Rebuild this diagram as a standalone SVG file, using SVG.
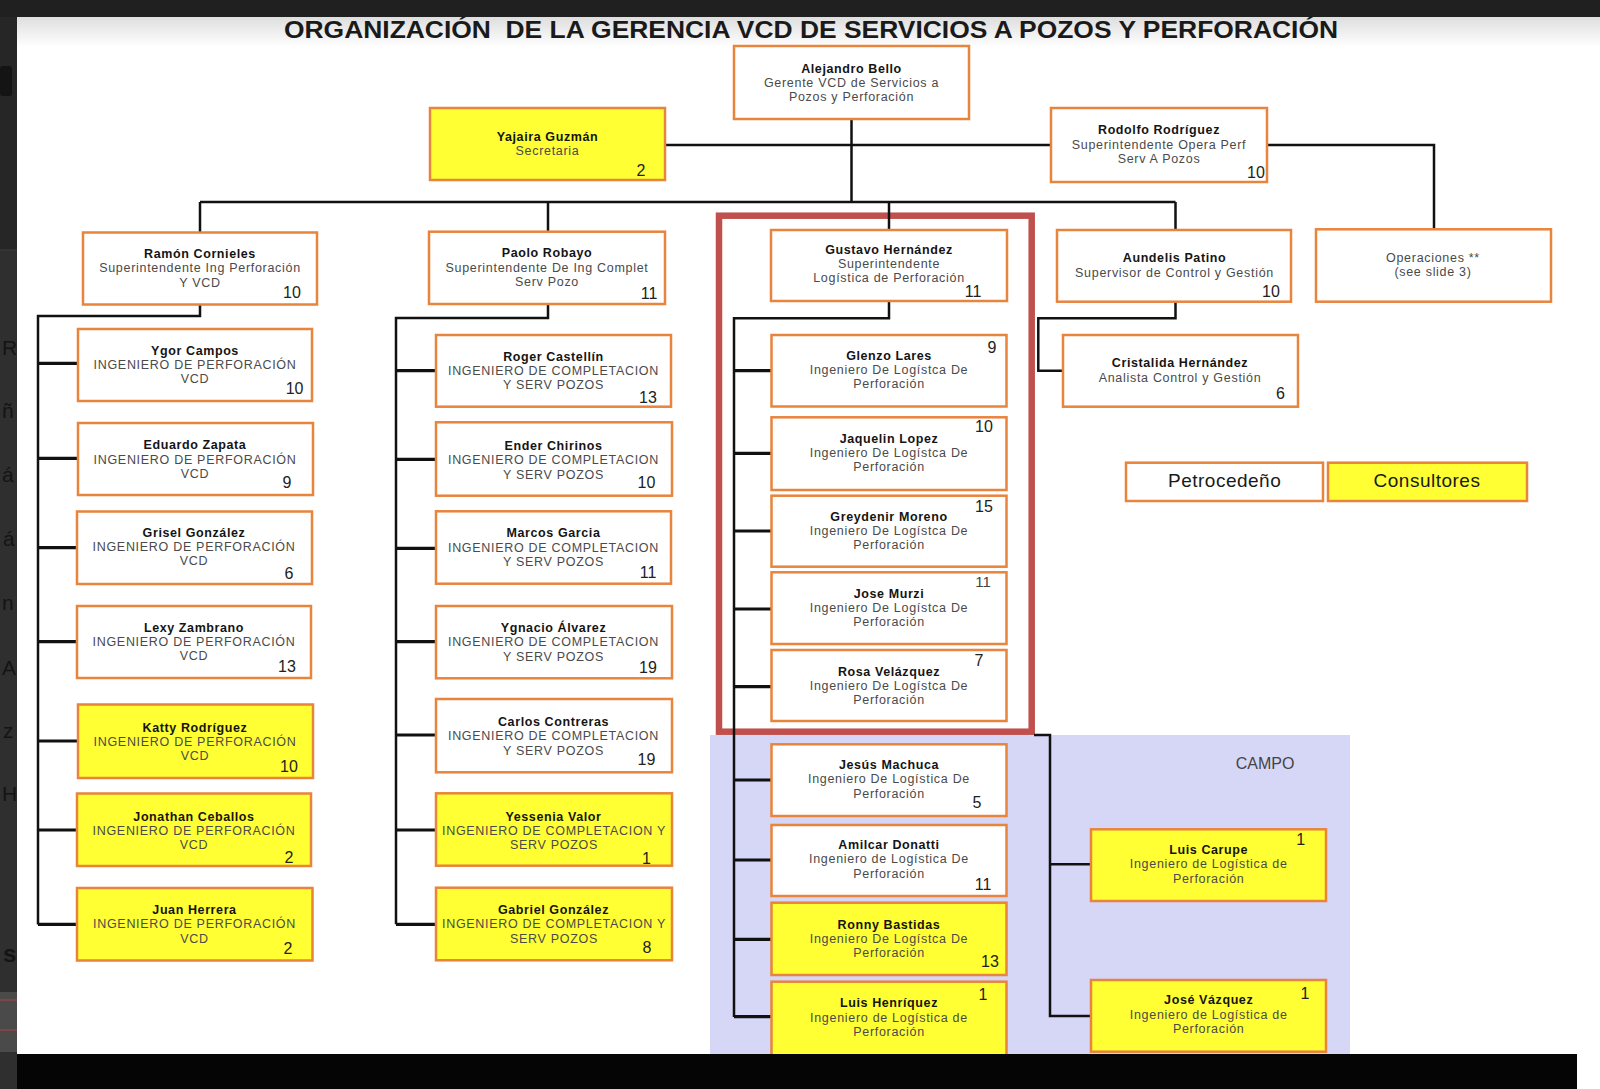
<svg xmlns="http://www.w3.org/2000/svg" width="1600" height="1089" viewBox="0 0 1600 1089">
<defs>
<linearGradient id="tg" x1="0" y1="0" x2="0" y2="1">
<stop offset="0" stop-color="#dedede"/>
<stop offset="1" stop-color="#ffffff"/>
</linearGradient>
</defs>
<style>
.bx{fill:#ffffff;stroke:#e8843c;stroke-width:2.5}
.y{fill:#ffff33}
text{font-family:"Liberation Sans",Arial,Helvetica,sans-serif}
.nm{font-size:12.5px;font-weight:bold;fill:#141414;text-anchor:middle;letter-spacing:0.6px}
.rl{font-size:12.5px;fill:#4a4a4a;text-anchor:middle;letter-spacing:0.7px}
.nu{font-size:16px;fill:#222222;text-anchor:middle}
.ln{stroke:#111111;stroke-width:2.5;fill:none}
.br{stroke:#111111;stroke-width:3.2;fill:none}
.bg{font-size:21px;fill:#141414}
</style>
<!-- background frame -->
<rect x="0" y="0" width="1600" height="1089" fill="#ffffff"/>
<rect x="17" y="17" width="1583" height="30" fill="url(#tg)"/>
<rect x="0" y="0" width="1600" height="17" fill="#202020"/>
<rect x="0" y="17" width="17" height="233" fill="#262626"/>
<rect x="0" y="250" width="17" height="839" fill="#2f2f2f"/>
<line x1="0" y1="250" x2="17" y2="250" stroke="#3c3c3c" stroke-width="1"/>
<rect x="0" y="66" width="12" height="30" rx="3" fill="#141414"/>
<g id="side-panel">
<text class="bg" x="2" y="355">R</text>
<text class="bg" x="2" y="418">ñ</text>
<text class="bg" x="2" y="482">á</text>
<text class="bg" x="3" y="546">á</text>
<text class="bg" x="2" y="610">n</text>
<text class="bg" x="2" y="675">A</text>
<text class="bg" x="3" y="738">z</text>
<text class="bg" x="2" y="801">H</text>
<text class="bg" x="3" y="962" style="font-weight:bold;font-size:24px">s</text>
<rect x="0" y="992" width="17" height="60" fill="#4a4a4a"/>
<line x1="0" y1="1000" x2="17" y2="1000" stroke="#b04040" stroke-width="1"/>
<line x1="0" y1="1030" x2="17" y2="1030" stroke="#b04040" stroke-width="1"/>
</g>
<rect x="17" y="1054" width="1560" height="35" fill="#050505"/>

<text x="811" y="38.3" text-anchor="middle" xml:space="preserve" textLength="1054" lengthAdjust="spacingAndGlyphs" style="font-size:23px;font-weight:bold;fill:#1a1a1a">ORGANIZACIÓN  DE LA GERENCIA VCD DE SERVICIOS A POZOS Y PERFORACIÓN</text>

<!-- CAMPO panel -->
<g id="campo">
<rect x="710" y="735" width="640" height="319" fill="#d6d6f6"/>
<text x="1265" y="769" text-anchor="middle" style="font-size:16px;fill:#444444">CAMPO</text>
</g>

<!-- highlight -->
<rect id="highlight" x="719" y="215.7" width="312.7" height="516" fill="none" stroke="#c0504d" stroke-width="6.5"/>

<g id="connectors">
<path class="ln" d="M851.5 119V202"/>
<path class="ln" d="M665 145H1051"/>
<path class="ln" d="M1267 145H1434V229"/>
<path class="ln" d="M200 202H1175.5"/>
<path class="ln" d="M200 202V232.5M548 202V231.7M889 202V230M1175.5 202V230"/>
<path class="ln" d="M200 304V316H38V924.5"/>
<path class="br" d="M38 363.3H78M38 458.3H78M38 547.7H77M38 641.7H77M38 741H78M38 830H77M38 924.3H77"/>
<path class="ln" d="M548 304V318H396V924.3"/>
<path class="br" d="M396 370.7H436M396 459.3H436M396 548.3H436M396 641.7H436M396 735H436M396 830H436M396 924.3H436"/>
<path class="ln" d="M889 301V318.3H734V1017"/>
<path class="br" d="M734 370.7H771.5M734 453.3H771.5M734 531H771.5M734 609H771.5M734 686.7H771.5M734 780H771.5M734 860H771.5M734 939.3H771.5M734 1016.7H771.5"/>
<path class="ln" d="M1175.5 301.7V318.3H1038.3V370.7H1063"/>
<path class="ln" d="M1034 735H1050V1016H1091M1050 864.3H1091"/>
</g>

<g id="alejandro-bello">
<rect class="bx" x="734" y="46" width="235" height="73"/>
<text class="nm" x="851.5" y="72.7">Alejandro Bello</text>
<text class="rl" x="851.5" y="87.3">Gerente VCD de Servicios a</text>
<text class="rl" x="851.5" y="101">Pozos y Perforación</text>
</g>
<g id="yajaira-guzman">
<rect class="bx y" x="430" y="108" width="235" height="72"/>
<text class="nm" x="547.5" y="140.7">Yajaira Guzmán</text>
<text class="rl" x="547.5" y="155">Secretaria</text>
<text class="nu" x="641" y="175.7">2</text>
</g>
<g id="rodolfo-rodriguez">
<rect class="bx" x="1051" y="108" width="216" height="74"/>
<text class="nm" x="1159" y="134">Rodolfo Rodríguez</text>
<text class="rl" x="1159" y="149">Superintendente Opera Perf</text>
<text class="rl" x="1159" y="162.7">Serv A Pozos</text>
<text class="nu" x="1256" y="177.7">10</text>
</g>
<g id="ramon-cornieles">
<rect class="bx" x="83" y="232.5" width="234" height="72"/>
<text class="nm" x="200" y="257.7">Ramón Cornieles</text>
<text class="rl" x="200" y="272.3">Superintendente Ing Perforación</text>
<text class="rl" x="200" y="286.7">Y VCD</text>
<text class="nu" x="292" y="297.7">10</text>
</g>
<g id="paolo-robayo">
<rect class="bx" x="429" y="231.7" width="236" height="72.3"/>
<text class="nm" x="547" y="257.3">Paolo Robayo</text>
<text class="rl" x="547" y="271.7">Superintendente De Ing Complet</text>
<text class="rl" x="547" y="285.7">Serv Pozo</text>
<text class="nu" x="649" y="299.3">11</text>
</g>
<g id="gustavo-hernandez">
<rect class="bx" x="771" y="230" width="236" height="71"/>
<text class="nm" x="889" y="254">Gustavo Hernández</text>
<text class="rl" x="889" y="268.3">Superintendente</text>
<text class="rl" x="889" y="282.3">Logística de Perforación</text>
<text class="nu" x="973" y="297.3">11</text>
</g>
<g id="aundelis-patino">
<rect class="bx" x="1057" y="230" width="234" height="71.7"/>
<text class="nm" x="1174.5" y="262.3">Aundelis Patino</text>
<text class="rl" x="1174.5" y="276.7">Supervisor de Control y Gestión</text>
<text class="nu" x="1271" y="296.7">10</text>
</g>
<g id="operaciones">
<rect class="bx" x="1316" y="229.3" width="235" height="72.4"/>
<text class="rl" x="1433" y="261.7">Operaciones **</text>
<text class="rl" x="1433" y="276">(see slide 3)</text>
</g>
<g id="cristalida-hernandez">
<rect class="bx" x="1063" y="335" width="235" height="71.7"/>
<text class="nm" x="1180" y="367.3">Cristalida Hernández</text>
<text class="rl" x="1180" y="381.7">Analista Control y Gestión</text>
<text class="nu" x="1280.5" y="399">6</text>
</g>
<g id="legend-petrocedeno">
<rect class="bx" x="1126" y="462.7" width="197" height="38.3"/>
<text x="1224.6" y="486.7" text-anchor="middle" style="font-size:19px;fill:#1a1a1a;letter-spacing:0.5px">Petrocedeño</text>
</g>
<g id="legend-consultores">
<rect class="bx y" x="1328" y="462.7" width="199" height="38.3"/>
<text x="1427" y="486.7" text-anchor="middle" style="font-size:19px;fill:#1a1a1a;letter-spacing:0.5px">Consultores</text>
</g>

<!-- left column -->
<g id="ygor-campos">
<rect class="bx" x="78" y="329" width="234" height="72"/>
<text class="nm" x="195" y="355">Ygor Campos</text>
<text class="rl" x="195" y="369">INGENIERO DE PERFORACIÓN</text>
<text class="rl" x="195" y="383.3">VCD</text>
<text class="nu" x="294.6" y="394">10</text>
</g>
<g id="eduardo-zapata">
<rect class="bx" x="78" y="423" width="235" height="72"/>
<text class="nm" x="195" y="449.3">Eduardo Zapata</text>
<text class="rl" x="195" y="463.5">INGENIERO DE PERFORACIÓN</text>
<text class="rl" x="195" y="477.7">VCD</text>
<text class="nu" x="287" y="487.7">9</text>
</g>
<g id="grisel-gonzalez">
<rect class="bx" x="77" y="511.5" width="235" height="72.5"/>
<text class="nm" x="194" y="536.7">Grisel González</text>
<text class="rl" x="194" y="551">INGENIERO DE PERFORACIÓN</text>
<text class="rl" x="194" y="565">VCD</text>
<text class="nu" x="289" y="579">6</text>
</g>
<g id="lexy-zambrano">
<rect class="bx" x="77" y="606" width="234" height="72"/>
<text class="nm" x="194" y="631.7">Lexy Zambrano</text>
<text class="rl" x="194" y="646">INGENIERO DE PERFORACIÓN</text>
<text class="rl" x="194" y="660">VCD</text>
<text class="nu" x="287" y="671.7">13</text>
</g>
<g id="katty-rodriguez">
<rect class="bx y" x="78" y="704.5" width="235" height="73.5"/>
<text class="nm" x="195" y="731.7">Katty Rodríguez</text>
<text class="rl" x="195" y="746">INGENIERO DE PERFORACIÓN</text>
<text class="rl" x="195" y="760">VCD</text>
<text class="nu" x="289" y="771.7">10</text>
</g>
<g id="jonathan-ceballos">
<rect class="bx y" x="77" y="793.5" width="234" height="72.5"/>
<text class="nm" x="194" y="820.7">Jonathan Ceballos</text>
<text class="rl" x="194" y="835">INGENIERO DE PERFORACIÓN</text>
<text class="rl" x="194" y="849">VCD</text>
<text class="nu" x="289" y="862.7">2</text>
</g>
<g id="juan-herrera">
<rect class="bx y" x="77" y="888" width="235.5" height="72.5"/>
<text class="nm" x="194.5" y="914">Juan Herrera</text>
<text class="rl" x="194.5" y="928.3">INGENIERO DE PERFORACIÓN</text>
<text class="rl" x="194.5" y="942.5">VCD</text>
<text class="nu" x="288" y="954">2</text>
</g>

<!-- middle column -->
<g id="roger-castellin">
<rect class="bx" x="436" y="335" width="235" height="71.7"/>
<text class="nm" x="553.5" y="360.7">Roger Castellín</text>
<text class="rl" x="553.5" y="375">INGENIERO DE COMPLETACION</text>
<text class="rl" x="553.5" y="389.3">Y SERV POZOS</text>
<text class="nu" x="648" y="402.7">13</text>
</g>
<g id="ender-chirinos">
<rect class="bx" x="436" y="422.3" width="236" height="73.4"/>
<text class="nm" x="553.5" y="450">Ender Chirinos</text>
<text class="rl" x="553.5" y="464.3">INGENIERO DE COMPLETACION</text>
<text class="rl" x="553.5" y="478.5">Y SERV POZOS</text>
<text class="nu" x="646.4" y="488.3">10</text>
</g>
<g id="marcos-garcia">
<rect class="bx" x="436" y="511.3" width="235" height="72.4"/>
<text class="nm" x="553.5" y="537.3">Marcos Garcia</text>
<text class="rl" x="553.5" y="551.5">INGENIERO DE COMPLETACION</text>
<text class="rl" x="553.5" y="565.7">Y SERV POZOS</text>
<text class="nu" x="648" y="578.3">11</text>
</g>
<g id="ygnacio-alvarez">
<rect class="bx" x="436" y="606" width="236" height="72.3"/>
<text class="nm" x="553.5" y="632">Ygnacio Álvarez</text>
<text class="rl" x="553.5" y="646.3">INGENIERO DE COMPLETACION</text>
<text class="rl" x="553.5" y="660.5">Y SERV POZOS</text>
<text class="nu" x="648" y="672.7">19</text>
</g>
<g id="carlos-contreras">
<rect class="bx" x="436" y="699" width="236" height="73.3"/>
<text class="nm" x="553.5" y="726">Carlos Contreras</text>
<text class="rl" x="553.5" y="740.3">INGENIERO DE COMPLETACION</text>
<text class="rl" x="553.5" y="754.5">Y SERV POZOS</text>
<text class="nu" x="646.4" y="765">19</text>
</g>
<g id="yessenia-valor">
<rect class="bx y" x="436" y="793.3" width="236" height="72.4"/>
<text class="nm" x="553.5" y="820.7">Yessenia Valor</text>
<text class="rl" x="554" y="835">INGENIERO DE COMPLETACION Y</text>
<text class="rl" x="554" y="849.3">SERV POZOS</text>
<text class="nu" x="646.4" y="864">1</text>
</g>
<g id="gabriel-gonzalez">
<rect class="bx y" x="436" y="887.7" width="236" height="72.6"/>
<text class="nm" x="553.5" y="914">Gabriel González</text>
<text class="rl" x="554" y="928.3">INGENIERO DE COMPLETACION Y</text>
<text class="rl" x="554" y="942.5">SERV POZOS</text>
<text class="nu" x="647" y="953.3">8</text>
</g>

<!-- logistics column -->
<g id="glenzo-lares">
<rect class="bx" x="771.5" y="335" width="235" height="71.5"/>
<text class="nm" x="889" y="360">Glenzo Lares</text>
<text class="rl" x="889" y="374">Ingeniero De Logístca De</text>
<text class="rl" x="889" y="388.3">Perforación</text>
<text class="nu" x="992" y="352.7">9</text>
</g>
<g id="jaquelin-lopez">
<rect class="bx" x="771.5" y="417.3" width="235" height="72.7"/>
<text class="nm" x="889" y="442.7">Jaquelin Lopez</text>
<text class="rl" x="889" y="456.7">Ingeniero De Logístca De</text>
<text class="rl" x="889" y="471">Perforación</text>
<text class="nu" x="984" y="432.3">10</text>
</g>
<g id="greydenir-moreno">
<rect class="bx" x="771.5" y="495.7" width="235" height="71"/>
<text class="nm" x="889" y="521">Greydenir Moreno</text>
<text class="rl" x="889" y="535">Ingeniero De Logístca De</text>
<text class="rl" x="889" y="549.3">Perforación</text>
<text class="nu" x="984" y="511.7">15</text>
</g>
<g id="jose-murzi">
<rect class="bx" x="771.5" y="572.3" width="235" height="71.7"/>
<text class="nm" x="889" y="598">Jose Murzi</text>
<text class="rl" x="889" y="612">Ingeniero De Logístca De</text>
<text class="rl" x="889" y="626.3">Perforación</text>
<text class="nu" x="983" y="587.3" style="font-size:15px;fill:#444">11</text>
</g>
<g id="rosa-velazquez">
<rect class="bx" x="771.5" y="650" width="235" height="71"/>
<text class="nm" x="889" y="675.5">Rosa Velázquez</text>
<text class="rl" x="889" y="689.7">Ingeniero De Logístca De</text>
<text class="rl" x="889" y="704">Perforación</text>
<text class="nu" x="979" y="665.7">7</text>
</g>
<g id="jesus-machuca">
<rect class="bx" x="771.5" y="744.3" width="235" height="71.7"/>
<text class="nm" x="889" y="769">Jesús Machuca</text>
<text class="rl" x="889" y="783.3">Ingeniero De Logística De</text>
<text class="rl" x="889" y="797.7">Perforación</text>
<text class="nu" x="977" y="808.3">5</text>
</g>
<g id="amilcar-donatti">
<rect class="bx" x="771.5" y="825" width="235" height="71"/>
<text class="nm" x="889" y="849">Amilcar Donatti</text>
<text class="rl" x="889" y="863.3">Ingeniero de Logística De</text>
<text class="rl" x="889" y="877.7">Perforación</text>
<text class="nu" x="983" y="890">11</text>
</g>
<g id="ronny-bastidas">
<rect class="bx y" x="771.5" y="902.7" width="235" height="72.3"/>
<text class="nm" x="889" y="928.7">Ronny Bastidas</text>
<text class="rl" x="889" y="943">Ingeniero De Logístca De</text>
<text class="rl" x="889" y="957.3">Perforación</text>
<text class="nu" x="990" y="966.7">13</text>
</g>
<g id="luis-henriquez">
<rect class="bx y" x="771.5" y="981.7" width="235" height="76"/>
<text class="nm" x="889" y="1007.3">Luis Henríquez</text>
<text class="rl" x="889" y="1021.5">Ingeniero de Logística de</text>
<text class="rl" x="889" y="1035.7">Perforación</text>
<text class="nu" x="983" y="1000">1</text>
</g>
<g id="luis-carupe">
<rect class="bx y" x="1091" y="829.3" width="235" height="71.7"/>
<text class="nm" x="1208.7" y="854">Luis Carupe</text>
<text class="rl" x="1208.7" y="868.3">Ingeniero de Logística de</text>
<text class="rl" x="1208.7" y="882.7">Perforación</text>
<text class="nu" x="1300.7" y="845.3">1</text>
</g>
<g id="jose-vazquez">
<rect class="bx y" x="1091" y="980" width="235" height="71.7"/>
<text class="nm" x="1208.7" y="1004.3">José Vázquez</text>
<text class="rl" x="1208.7" y="1018.5">Ingeniero de Logística de</text>
<text class="rl" x="1208.7" y="1032.7">Perforación</text>
<text class="nu" x="1305" y="999.3">1</text>
</g>
<rect x="17" y="1054" width="1560" height="35" fill="#050505"/>
</svg>
